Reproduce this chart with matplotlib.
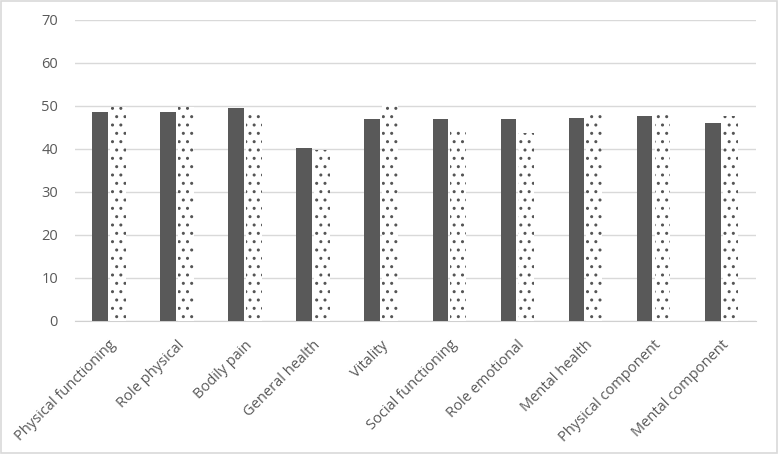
import matplotlib.pyplot as plt
import matplotlib as mpl
import numpy as np

categories = ["Physical functioning", "Role physical", "Bodily pain", "General health",
              "Vitality", "Social functioning", "Role emotional", "Mental health",
              "Physical component", "Mental component"]
series_solid = [48.5, 48.7, 49.5, 40.2, 47.0, 47.0, 47.0, 47.1, 47.6, 46.0]
series_dotted = [49.8, 49.8, 49.0, 39.8, 50.6, 44.5, 43.7, 47.8, 47.8, 47.7]

plt.rcParams['font.family'] = ['Open Sans', 'DejaVu Sans']
mpl.rcParams['hatch.color'] = '#555555'
mpl.rcParams['hatch.linewidth'] = 1.0

fig = plt.figure(figsize=(7.79, 4.54), dpi=100)
ax = fig.add_axes([0.096, 0.293, 0.874, 0.663])

x = np.arange(len(categories))
w = 0.23
ax.bar(x - 0.13, series_solid, width=w, color='#595959', zorder=3)
ax.bar(x + 0.13, series_dotted, width=w, color='white', hatch='..', edgecolor='#555555',
       linewidth=0, zorder=3)

ax.set_xlim(-0.5, len(categories) - 0.5)
ax.set_ylim(0, 70)
ax.set_yticks(range(0, 71, 10))
ax.yaxis.grid(True, color='#d9d9d9', linewidth=1)
ax.set_axisbelow(True)

for s in ['top', 'right', 'left']:
    ax.spines[s].set_visible(False)
ax.spines['bottom'].set_color('#d0d0d0')

ax.set_xticks(x)
ax.set_xticklabels(categories, rotation=45, ha='right', rotation_mode='anchor')
ax.tick_params(axis='both', length=0, labelsize=10.5, labelcolor='#595959')
ax.tick_params(axis='y', pad=12)
ax.tick_params(axis='x', pad=12)

fig.patches.append(plt.Rectangle((0.001, 0.002), 0.997, 0.995, transform=fig.transFigure,
                                 fill=False, edgecolor='#d9d9d9', linewidth=1.2))

plt.savefig("out.png")
